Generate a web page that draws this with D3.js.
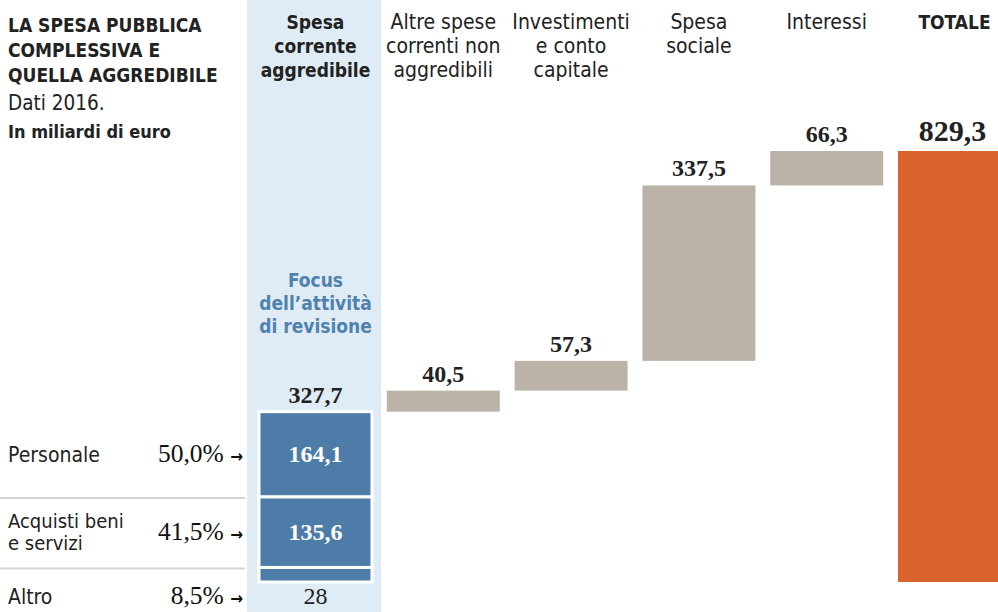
<!DOCTYPE html>
<html>
<head>
<meta charset="utf-8">
<script src="https://cdn.jsdelivr.net/npm/d3@7"></script>
<style>
  body { margin: 0; background: #fff; }
  .sans { font-family: "DejaVu Sans Condensed", "DejaVu Sans", sans-serif; font-stretch: condensed; }
  .serif { font-family: "Liberation Serif", "DejaVu Serif", serif; }
</style>
</head>
<body>
<div class="chart"></div>
<script>
// data
const categories = ["Spesa corrente aggredibile", "Altre spese correnti non aggredibili", "Investimenti e conto capitale", "Spesa sociale", "Interessi", "TOTALE"];
const headerLines = [["Spesa", "corrente", "aggredibile"], ["Altre spese", "correnti non", "aggredibili"], ["Investimenti", "e conto", "capitale"], ["Spesa", "sociale"], ["Interessi"], ["TOTALE"]];
const values = [327.7, 40.5, 57.3, 337.5, 66.3, 829.3];
const valueLabels = ["327,7", "40,5", "57,3", "337,5", "66,3", "829,3"];
const components = ["Personale", "Acquisti beni e servizi", "Altro"];
const componentLines = [["Personale"], ["Acquisti beni", "e servizi"], ["Altro"]];
const componentValues = [164.1, 135.6, 28];
const componentLabels = ["164,1", "135,6", "28"];
const componentShares = ["50,0%", "41,5%", "8,5%"];

const width = 998, height = 612;
const svg = d3.select(".chart").append("svg")
    .attr("width", width)
    .attr("height", height);

const xScale = d3.scaleBand()
    .domain(categories)
    .range([259, 1011])
    .paddingInner(0.116)
    .paddingOuter(0);

const yScale = d3.scaleLinear()
    .domain([0, 829.3])
    .range([582, 151]);

// waterfall starts
let running = 0;
const bars = categories.map((c, i) => {
    let start = running, end = running + values[i];
    if (c === "TOTALE") { start = 0; end = values[i]; }
    else running = end;
    return {cat: c, start: start, end: end, label: valueLabels[i], header: headerLines[i]};
});

// light blue focus column
const bw = xScale.bandwidth();
svg.append("rect")
    .attr("x", xScale(categories[0]) - 12)
    .attr("y", 0)
    .attr("width", bw + 21)
    .attr("height", height)
    .attr("fill", "#e0ecf5");

// title
const title = svg.append("g").attr("class", "sans").attr("fill", "#222");
["LA SPESA PUBBLICA", "COMPLESSIVA E", "QUELLA AGGREDIBILE"].forEach((t, i) => {
    title.append("text").attr("x", 8).attr("y", 32 + i * 25)
        .attr("font-size", 19).attr("font-weight", "bold").text(t);
});
title.append("text").attr("x", 8).attr("y", 110).attr("font-size", 20.5).text("Dati 2016.");
title.append("text").attr("x", 8).attr("y", 138).attr("font-size", 18).attr("font-weight", "bold").text("In miliardi di euro");

// column headers
const headers = svg.append("g").attr("class", "sans").attr("fill", "#222");
bars.forEach((d, i) => {
    const bold = (i === 0 || d.cat === "TOTALE");
    d.header.forEach((line, j) => {
        headers.append("text")
            .attr("x", xScale(d.cat) + bw / 2)
            .attr("y", 29 + j * 24)
            .attr("text-anchor", "middle")
            .attr("font-size", bold ? 19 : 21)
            .attr("font-weight", bold ? "bold" : "normal")
            .text(line);
    });
});

// focus label
["Focus", "dell\u2019attività", "di revisione"].forEach((t, i) => {
    svg.append("text").attr("class", "sans")
        .attr("x", xScale(categories[0]) + bw / 2)
        .attr("y", 287 + i * 23)
        .attr("text-anchor", "middle")
        .attr("font-size", 19).attr("font-weight", "bold")
        .attr("fill", "#4f82b0")
        .text(t);
});

// gray / orange bars
svg.selectAll("rect.step")
    .data(bars.slice(1))
    .enter()
    .append("rect")
    .attr("class", "step")
    .attr("x", d => xScale(d.cat))
    .attr("y", d => yScale(d.end))
    .attr("width", bw)
    .attr("height", d => yScale(d.start) - yScale(d.end))
    .attr("fill", d => d.cat === "TOTALE" ? "#d9632b" : "#bbb3a7");

// stacked blue bar
let acc = 0;
const stack = componentValues.slice().reverse().map((v, k) => {
    const i = componentValues.length - 1 - k;
    const s = {i: i, start: acc, end: acc + v};
    acc += v;
    return s;
}).reverse();

svg.selectAll("rect.comp")
    .data(stack)
    .enter()
    .append("rect")
    .attr("class", "comp")
    .attr("x", xScale(categories[0]))
    .attr("y", d => yScale(d.end))
    .attr("width", bw)
    .attr("height", d => yScale(d.start) - yScale(d.end))
    .attr("fill", "#4d7ca8")
    .attr("stroke", "#fff")
    .attr("stroke-width", 3);

// value labels above bars
svg.selectAll("text.val")
    .data(bars)
    .enter()
    .append("text")
    .attr("class", "val serif")
    .attr("x", d => xScale(d.cat) + bw / 2 + (d.cat === "TOTALE" ? -2 : 0))
    .attr("y", d => yScale(d.end) - (d.cat === "TOTALE" ? 10 : 9))
    .attr("text-anchor", "middle")
    .attr("font-size", d => d.cat === "TOTALE" ? 30 : 24)
    .attr("font-weight", "bold")
    .attr("fill", "#222")
    .text(d => d.label);

// component rows on the left
const cx = xScale(categories[0]) + bw / 2;
stack.forEach(d => {
    const mid = d.i < 2 ? (yScale(d.start) + yScale(d.end)) / 2 + 8 : yScale(0) + 22;
    const lines = componentLines[d.i];
    lines.forEach((line, j) => {
        svg.append("text").attr("class", "sans")
            .attr("x", 8)
            .attr("y", lines.length > 1 ? mid - 12 + j * 22 : mid)
            .attr("font-size", lines.length > 1 ? 20 : 21).attr("fill", "#222")
            .text(line);
    });
    const pct = svg.append("text").attr("class", "serif")
        .attr("x", 243).attr("y", mid)
        .attr("text-anchor", "end")
        .attr("font-size", 25.5).attr("fill", "#111");
    pct.append("tspan").text(componentShares[d.i] + " ");
    pct.append("tspan").attr("class", "sans").attr("font-size", 17).attr("font-weight", "bold").text("\u2192");

    svg.append("text").attr("class", "serif")
        .attr("x", cx).attr("y", mid)
        .attr("text-anchor", "middle")
        .attr("font-size", 24)
        .attr("font-weight", d.i < 2 ? "bold" : "normal")
        .attr("fill", d.i < 2 ? "#fff" : "#222")
        .text(componentLabels[d.i]);

    if (d.i > 0) {
        svg.append("line")
            .attr("x1", 0).attr("x2", 245)
            .attr("y1", yScale(d.end) + 1).attr("y2", yScale(d.end) + 1)
            .attr("stroke", "#d4d4d4").attr("stroke-width", 2);
    }
});
</script>
</body>
</html>
